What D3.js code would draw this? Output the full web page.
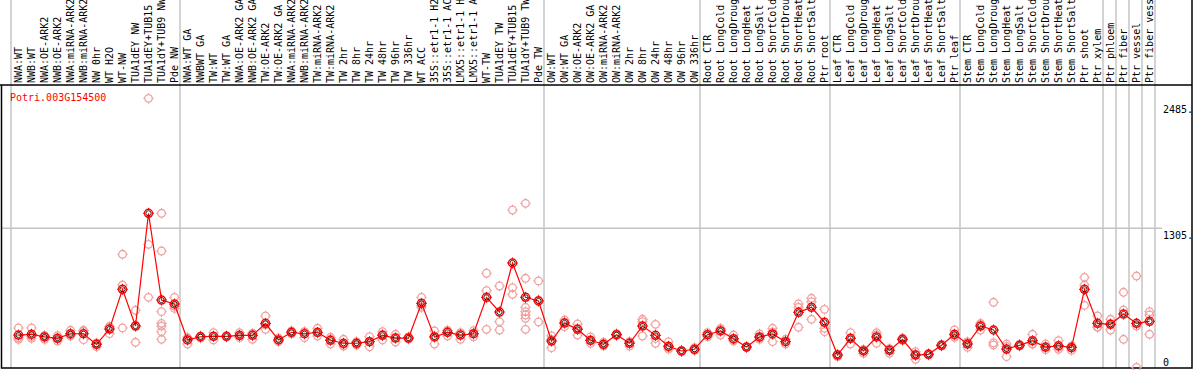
<!DOCTYPE html>
<html>
<head>
<meta charset="utf-8">
<script src="https://cdn.jsdelivr.net/npm/d3@7"></script>
<style>
body { margin: 0; background: #fff; }
svg { display: block; }
text { font-family: "DejaVu Sans Mono", monospace; font-size: 10px; }
</style>
</head>
<body>
<script>
// Expression profile of one gene over 88 samples.
var geneName = 'Potri.003G154500';

var samples = [
	'NWA:WT', 'NWB:WT', 'NWA:OE-ARK2', 'NWB:OE-ARK2', 'NWA:miRNA-ARK2', 'NWB:miRNA-ARK2', 'NW 0hr',
	'WT H2O', 'WT-NW', 'TUA1dEY NW', 'TUA1dEY+TUB15 NW', 'TUA1dY+TUB9 NW', 'Pde NW',
	'NWA:WT GA', 'NWBWT GA', 'TW:WT', 'TW:WT GA', 'NWA:OE-ARK2 GA', 'NWB:OE-ARK2 GA', 'TW:OE-ARK2',
	'TW:OE-ARK2 GA', 'NWA:miRNA-ARK2 GA', 'NWB:miRNA-ARK2 GA', 'TW:miRNA-ARK2', 'TW:miRNA-ARK2',
	'TW 2hr', 'TW 8hr', 'TW 24hr', 'TW 48hr', 'TW 96hr', 'TW 336hr', 'WT ACC',
	'35S::etr1-1 H2O', '35S::etr1-1 ACC', 'LMX5::etr1-1 H2O', 'LMX5::etr1-1 ACC', 'WT-TW',
	'TUA1dEY TW', 'TUA1dEY+TUB15 TW', 'TUA1dY+TUB9 TW', 'Pde TW',
	'OW:WT', 'OW:WT GA', 'OW:OE-ARK2', 'OW:OE-ARK2 GA', 'OW:miRNA-ARK2', 'OW:miRNA-ARK2',
	'OW 2hr', 'OW 8hr', 'OW 24hr', 'OW 48hr', 'OW 96hr', 'OW 336hr',
	'Root CTR', 'Root LongCold', 'Root LongDrought', 'Root LongHeat', 'Root LongSalt',
	'Root ShortCold', 'Root ShortDrought', 'Root ShortHeat', 'Root ShortSalt', 'Ptr root',
	'Leaf CTR', 'Leaf LongCold', 'Leaf LongDrought', 'Leaf LongHeat', 'Leaf LongSalt',
	'Leaf ShortCold', 'Leaf ShortDrought', 'Leaf ShortHeat', 'Leaf ShortSalt', 'Ptr leaf',
	'Stem CTR', 'Stem LongCold', 'Stem LongDrought', 'Stem LongHeat', 'Stem LongSalt',
	'Stem ShortCold', 'Stem ShortDrought', 'Stem ShortHeat', 'Stem ShortSalt', 'Ptr shoot', 'Ptr xylem',
	'Ptr phloem', 'Ptr fiber', 'Ptr vessel', 'Ptr fiber vessel'
];

// Index of the first sample of each experiment block (last entry = end).
var groupStarts = [0, 13, 41, 53, 63, 73, 84, 85, 86, 87, 88];

var means = [
	308, 315, 290, 277, 320, 320, 221, 364, 735, 392, 1445, 635, 598,
	262, 292, 296, 296, 305, 305, 417, 262, 333, 320, 333, 259, 231, 231, 246, 305,
	280, 280, 604, 290, 333, 308, 320, 660, 523, 981, 660, 626,
	252, 420, 361, 259, 221, 311, 231, 392, 305, 203, 159, 175,
	311, 346, 274, 196, 290, 318, 246, 520, 567, 427,
	121, 277, 159, 290, 165, 268, 121, 128, 212, 315,
	224, 392, 355, 177, 212, 255, 196, 208, 190, 735, 417,
	408, 504, 417, 436
];

var replicates = [
	[374, 268, 282], [374, 277, 294], [305, 297, 268], [302, 277, 252], [352, 309, 299],
	[352, 343, 265], [234, 230, 199], [388, 383, 321], [1062, 775, 374], [539, 397, 240],
	[2519, 1155, 660], [1445, 1093, 526, 417, 392, 339, 268], [660, 577, 557],
	[282, 280, 224], [300, 296, 280], [330, 296, 262], [300, 296, 290], [330, 301, 284],
	[321, 326, 268], [486, 404, 361], [280, 260, 246], [346, 333, 320], [340, 337, 283],
	[371, 329, 299], [287, 266, 224], [268, 220, 205], [246, 232, 215], [292, 247, 199],
	[339, 314, 262], [315, 282, 243], [290, 280, 270], [660, 585, 567], [346, 300, 224],
	[350, 350, 299], [330, 326, 268], [348, 320, 292], [885, 722, 361], [766, 433, 355],
	[1476, 750, 688], [1538, 838, 567, 526, 495, 464, 361], [813, 635, 430],
	[299, 267, 190], [448, 426, 386], [411, 370, 308], [290, 256, 231], [240, 215, 208],
	[320, 311, 302], [245, 243, 205], [455, 433, 299], [408, 276, 231], [243, 190, 176],
	[165, 159, 153], [190, 170, 165],
	[330, 311, 292], [370, 361, 308], [308, 252, 262], [200, 193, 196], [318, 284, 268],
	[371, 337, 246], [268, 246, 224], [598, 567, 380], [651, 619, 455], [548, 371, 339],
	[130, 127, 106], [330, 277, 224], [170, 170, 137], [330, 310, 231], [180, 178, 137],
	[280, 268, 256], [152, 130, 81], [135, 128, 121], [220, 212, 204], [355, 303, 287],
	[246, 233, 193], [417, 404, 355], [614, 236, 215], [224, 201, 106], [220, 212, 204],
	[315, 226, 224], [224, 193, 171], [255, 194, 175], [206, 199, 165], [847, 775, 585],
	[486, 385, 380],
	[455, 415, 355], [707, 542, 268], [859, 392, 5], [526, 495, 315]
];

var yTicks = [0, 1305, 2485];
var yTickLabels = ['0', '1305.', '2485.'];
var yGrid = [1305];

var width = 1194, height = 370;
var headerBottom = 85, plotBottom = 368, plotRight = 1156, frameRight = 1192;

var x = d3.scaleBand().domain(d3.range(samples.length)).range([12, plotRight]);
var y = d3.scaleLinear().domain([0, 2485]).range([plotBottom, 102]);
function cx(i) { return x(i) + x.bandwidth() / 2; }

var svg = d3.select('body').append('svg')
	.attr('width', width)
	.attr('height', height);

// Block separators run through the header too.
svg.append('g').selectAll('line')
	.data(groupStarts)
	.enter().append('line')
	.attr('x1', function(i) { return (i < samples.length ? x(i) : plotRight) - 1; })
	.attr('x2', function(i) { return (i < samples.length ? x(i) : plotRight) - 1; })
	.attr('y1', 0)
	.attr('y2', plotBottom)
	.attr('stroke', '#c4c4c4')
	.attr('stroke-width', 1.5);

svg.append('g').selectAll('line')
	.data(yGrid)
	.enter().append('line')
	.attr('x1', 1)
	.attr('x2', 1162)
	.attr('y1', function(d) { return y(d); })
	.attr('y2', function(d) { return y(d); })
	.attr('stroke', '#c4c4c4')
	.attr('stroke-width', 1.5);

// Frame.
svg.append('path')
	.attr('d', 'M1.5,' + headerBottom + 'V' + plotBottom + 'H' + frameRight + 'V0')
	.attr('fill', 'none')
	.attr('stroke', '#000')
	.attr('stroke-width', 1.5);
svg.append('line')
	.attr('x1', 0).attr('x2', frameRight)
	.attr('y1', headerBottom).attr('y2', headerBottom)
	.attr('stroke', '#000')
	.attr('stroke-width', 1.5);

// Sample labels, vertical; the header only has room for 14 characters.
svg.append('g').selectAll('text')
	.data(samples)
	.enter().append('text')
	.attr('transform', function(d, i) { return 'translate(' + (cx(i) - 0.5) + ',83) rotate(-90)'; })
	.attr('dy', '0.35em')
	.attr('fill', '#000')
	.text(function(d) { return d.slice(0, 14); });

// Right axis labels.
var axis = d3.axisRight(y)
	.tickValues(yTicks)
	.tickSize(0)
	.tickFormat(function(d, i) { return yTickLabels[i]; });
var axisG = svg.append('g')
	.attr('transform', 'translate(1161,0)')
	.call(axis);
axisG.select('.domain').remove();
axisG.selectAll('text')
	.attr('x', 2)
	.attr('dy', function(d) { return d === 0 ? '-0.3em' : '1.05em'; })
	.attr('fill', '#000')
	.style('font-family', '"DejaVu Sans Mono", monospace')
	.style('font-size', '10px');

// Circle marker with four short ticks, like the original plot symbol.
function marker(g, r, color, w) {
	g.append('circle').attr('r', r).attr('fill', 'none').attr('stroke', color).attr('stroke-width', w);
	g.append('path')
		.attr('d', 'M0,' + (-r - 1.5) + 'V' + (-r) + 'M0,' + r + 'V' + (r + 1.5) +
			'M' + (-r - 1.5) + ',0H' + (-r) + 'M' + r + ',0H' + (r + 1.5))
		.attr('stroke', color).attr('stroke-width', 1);
}

var reps = [];
replicates.forEach(function(vals, i) {
	vals.forEach(function(v) { reps.push({i: i, v: v}); });
});

svg.append('g').selectAll('g')
	.data(reps)
	.enter().append('g')
	.attr('transform', function(d) { return 'translate(' + cx(d.i) + ',' + y(d.v) + ')'; })
	.each(function() { marker(d3.select(this), 3.8, '#f0a0a0', 1.3); });

svg.append('path')
	.datum(means)
	.attr('fill', 'none')
	.attr('stroke', '#ff0000')
	.attr('stroke-width', 1.2)
	.attr('d', d3.line().x(function(d, i) { return cx(i); }).y(function(d) { return y(d); }));

var meanG = svg.append('g').selectAll('g')
	.data(means)
	.enter().append('g')
	.attr('transform', function(d, i) { return 'translate(' + cx(i) + ',' + y(d) + ')'; });
meanG.each(function() {
	var g = d3.select(this);
	marker(g, 4, '#ff0000', 1.5);
	g.append('circle').attr('r', 2.6).attr('fill', 'none').attr('stroke', '#000').attr('stroke-width', 0.8);
});

svg.append('text')
	.attr('x', 10)
	.attr('y', 101)
	.attr('fill', '#ff0000')
	.text(geneName);
</script>
</body>
</html>
